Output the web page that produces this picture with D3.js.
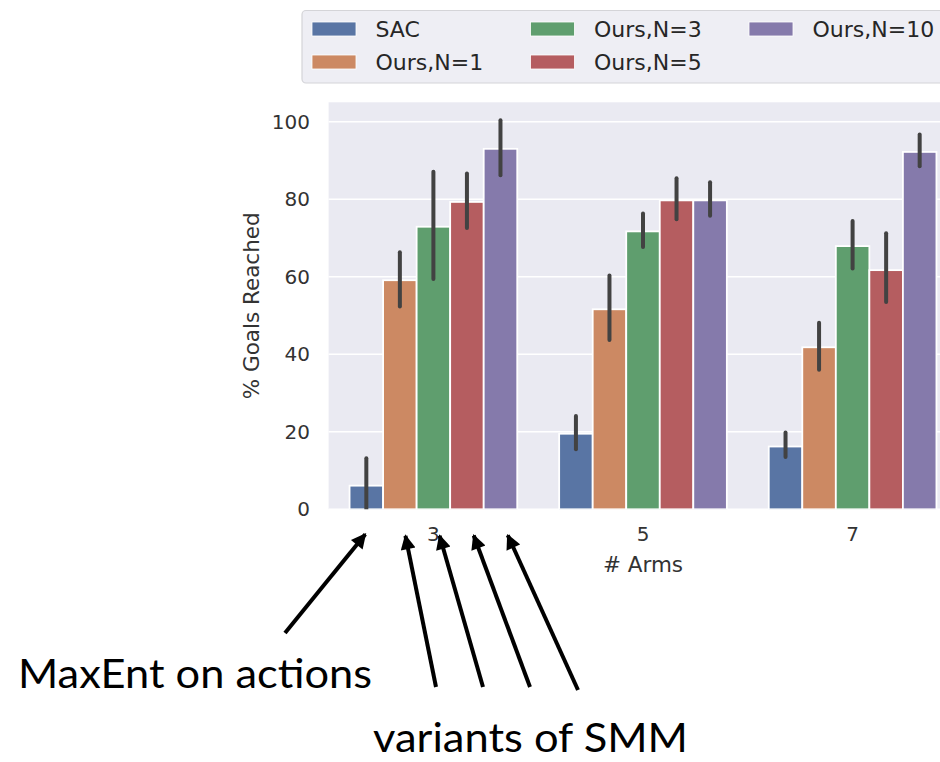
<!DOCTYPE html>
<html>
<head>
<meta charset="utf-8">
<script src="https://cdn.jsdelivr.net/npm/d3@7"></script>
<style>
  body { margin: 0; background: #fff; }
  svg { display: block; }
</style>
</head>
<body>
<script>
// goal-reaching bars with ci, grouped by number of arms

var arms = ["3", "5", "7"];
var methods = ["SAC", "Ours,N=1", "Ours,N=3", "Ours,N=5", "Ours,N=10"];
var colors = ["#5975A4", "#CC8963", "#5F9E6E", "#B55D60", "#857AAB"];

// mean % goals reached, one array per method (arms 3,5,7)
var sac   = [6.1, 19.5, 16.2];
var ours1 = [59.1, 51.6, 41.8];
var ours3 = [72.9, 71.7, 67.9];
var ours5 = [79.3, 79.7, 61.7];
var ours10 = [93.0, 79.7, 92.2];

// error bar ends
var sacLo = [0, 15.5, 13.5],      sacHi = [13.2, 24.1, 19.8];
var ours1Lo = [52.3, 43.7, 36.0], ours1Hi = [66.3, 60.3, 48.1];
var ours3Lo = [59.4, 67.7, 62.1], ours3Hi = [87.1, 76.3, 74.4];
var ours5Lo = [72.6, 74.8, 53.5], ours5Hi = [86.6, 85.4, 71.2];
var ours10Lo = [86.2, 75.7, 88.5], ours10Hi = [100.4, 84.4, 96.7];

var yTicks = [0, 20, 40, 60, 80, 100];

var means = [sac, ours1, ours3, ours5, ours10];
var lows = [sacLo, ours1Lo, ours3Lo, ours5Lo, ours10Lo];
var highs = [sacHi, ours1Hi, ours3Hi, ours5Hi, ours10Hi];

var rows = [];
methods.forEach(function(m, i) {
    arms.forEach(function(a, j) {
        rows.push({arm: a, method: m, value: means[i][j], lo: lows[i][j], hi: highs[i][j]});
    });
});

var width = 940, height = 762;
var plotLeft = 328.6, plotRight = 957.4, plotTop = 102.3, plotBottom = 509.3;

var svg = d3.select("body").append("svg")
    .attr("width", width)
    .attr("height", height)
    .style("font-family", "'DejaVu Sans', sans-serif");

svg.append("rect").attr("width", width).attr("height", height).attr("fill", "#fff");

var x = d3.scaleBand().domain(arms).range([plotLeft, plotRight]).padding(0);
var inner = d3.scaleBand().domain(methods)
    .range([x.bandwidth() * 0.1, x.bandwidth() * 0.9]).padding(0);
var y = d3.scaleLinear().domain([0, 105]).range([plotBottom, plotTop]);
var color = d3.scaleOrdinal().domain(methods).range(colors);

svg.append("defs").append("clipPath").attr("id", "plotclip")
    .append("rect")
    .attr("x", plotLeft).attr("y", plotTop)
    .attr("width", plotRight - plotLeft).attr("height", plotBottom - plotTop);

svg.append("rect")
    .attr("x", plotLeft).attr("y", plotTop)
    .attr("width", plotRight - plotLeft).attr("height", plotBottom - plotTop)
    .attr("fill", "#EAEAF2");

// grid
svg.append("g").attr("class", "grid")
  .selectAll("line").data(yTicks).enter().append("line")
    .attr("x1", plotLeft).attr("x2", plotRight)
    .attr("y1", function(d) { return y(d); })
    .attr("y2", function(d) { return y(d); })
    .attr("stroke", "#fff").attr("stroke-width", 1.6);

var plot = svg.append("g").attr("clip-path", "url(#plotclip)");

plot.selectAll("rect.bar").data(rows).enter().append("rect")
    .attr("class", "bar")
    .attr("x", function(d) { return x(d.arm) + inner(d.method); })
    .attr("y", function(d) { return y(d.value); })
    .attr("width", inner.bandwidth())
    .attr("height", function(d) { return y(0) - y(d.value); })
    .attr("fill", function(d) { return color(d.method); })
    .attr("stroke", "#fff")
    .attr("stroke-width", 1.8);

plot.selectAll("line.err").data(rows).enter().append("line")
    .attr("class", "err")
    .attr("x1", function(d) { return x(d.arm) + inner(d.method) + inner.bandwidth() / 2; })
    .attr("x2", function(d) { return x(d.arm) + inner(d.method) + inner.bandwidth() / 2; })
    .attr("y1", function(d) { return y(d.lo); })
    .attr("y2", function(d) { return y(d.hi); })
    .attr("stroke", "#424242")
    .attr("stroke-width", 4)
    .attr("stroke-linecap", "round");

// y axis
var yAxis = svg.append("g")
    .attr("transform", "translate(" + plotLeft + ",0)")
    .call(d3.axisLeft(y).tickValues(yTicks).tickSize(0).tickPadding(18.6));
yAxis.select(".domain").remove();
yAxis.selectAll("text")
    .attr("font-size", 20)
    .attr("font-family", "'DejaVu Sans', sans-serif")
    .attr("fill", "#333");

// x axis
var xAxis = svg.append("g")
    .attr("transform", "translate(0," + plotBottom + ")")
    .call(d3.axisBottom(x).tickSize(0).tickPadding(18));
xAxis.select(".domain").remove();
xAxis.selectAll("text")
    .attr("font-size", 20)
    .attr("font-family", "'DejaVu Sans', sans-serif")
    .attr("fill", "#333");

svg.append("text")
    .attr("x", (plotLeft + plotRight) / 2)
    .attr("y", 572)
    .attr("text-anchor", "middle")
    .attr("font-size", 21.5)
    .attr("fill", "#333")
    .text("# Arms");

svg.append("text")
    .attr("transform", "translate(259," + (plotTop + plotBottom) / 2 + ") rotate(-90)")
    .attr("text-anchor", "middle")
    .attr("font-size", 21.5)
    .attr("fill", "#333")
    .text("% Goals Reached");

// legend
var legend = svg.append("g");
legend.append("rect")
    .attr("x", 302).attr("y", 10.5)
    .attr("width", 700).attr("height", 72.5)
    .attr("rx", 4)
    .attr("fill", "#EEEEF4")
    .attr("stroke", "#d4d4d8")
    .attr("stroke-width", 1.2);

var item = legend.selectAll("g.item").data(methods).enter().append("g")
    .attr("class", "item")
    .attr("transform", function(d, i) {
        var col = Math.floor(i / 2), row = i % 2;
        return "translate(" + (312 + col * 218.5) + "," + (29 + row * 33) + ")";
    });
item.append("rect")
    .attr("x", 0).attr("y", -7)
    .attr("width", 44).attr("height", 14)
    .attr("fill", function(d) { return color(d); })
    .attr("stroke", "#fff").attr("stroke-width", 0.8);
item.append("text")
    .attr("x", 63.5).attr("dy", "0.36em")
    .attr("font-size", 22)
    .attr("fill", "#262626")
    .text(function(d) { return d; });

// annotations
var defs = svg.select("defs");
defs.append("marker")
    .attr("id", "head")
    .attr("viewBox", "0 0 10 10")
    .attr("refX", 9).attr("refY", 5)
    .attr("markerUnits", "userSpaceOnUse")
    .attr("markerWidth", 17).attr("markerHeight", 15)
    .attr("orient", "auto")
  .append("path")
    .attr("d", "M0,0 L10,5 L0,10 z")
    .attr("fill", "#000");

var arrowTargets = ["SAC", "Ours,N=1", "Ours,N=3", "Ours,N=5", "Ours,N=10"];
var arrowTails = [[285, 633], [436, 687], [483, 687], [530, 687], [578, 690]];

arrowTargets.forEach(function(m, i) {
    var tx = x("3") + inner(m) + inner.bandwidth() / 2 + 4;
    var ty = 528;
    var sx = arrowTails[i][0], sy = arrowTails[i][1];
    var dx = tx - sx, dy = ty - sy, len = Math.sqrt(dx * dx + dy * dy);
    // stop the line short so the head makes the point
    var ex = tx - dx / len * 8, ey = ty - dy / len * 8;
    svg.append("line")
        .attr("x1", sx).attr("y1", sy)
        .attr("x2", ex).attr("y2", ey)
        .attr("stroke", "#000")
        .attr("stroke-width", 4)
        .attr("marker-end", "url(#head)");
});

svg.append("text")
    .attr("x", 18).attr("y", 688)
    .attr("font-family", "Lato, 'Noto Sans', sans-serif")
    .attr("font-size", 40)
    .attr("textLength", 354)
    .attr("lengthAdjust", "spacingAndGlyphs")
    .attr("fill", "#000")
    .text("MaxEnt on actions");

svg.append("text")
    .attr("x", 373).attr("y", 752)
    .attr("font-family", "Lato, 'Noto Sans', sans-serif")
    .attr("font-size", 40)
    .attr("textLength", 315)
    .attr("lengthAdjust", "spacingAndGlyphs")
    .attr("fill", "#000")
    .text("variants of SMM");
</script>
</body>
</html>
